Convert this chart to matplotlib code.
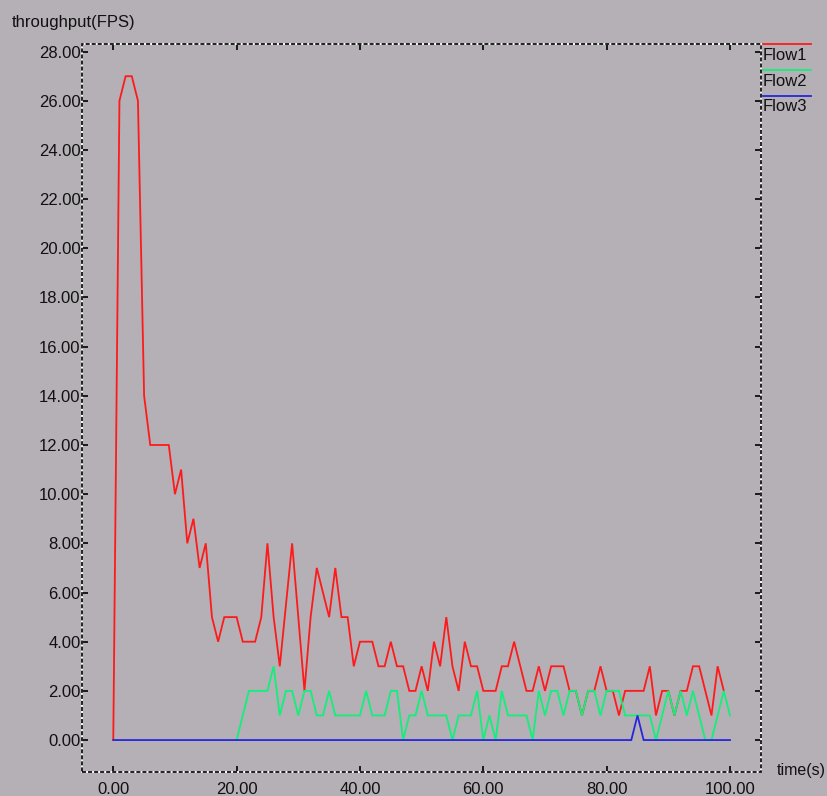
import matplotlib
matplotlib.use("Agg")
import matplotlib.pyplot as plt
from matplotlib.patches import Rectangle
import numpy as np

# ---------------- data ----------------
red_t = list(range(0, 100))
red_v = [0, 26, 27, 27, 26, 14, 12, 12, 12, 12,
         10, 11, 8, 9, 7, 8, 5, 4, 5, 5,
         5, 4, 4, 4, 5, 8, 5, 3, 5.5, 8,
         5, 2, 5, 7, 6, 5, 7, 5, 5, 3,
         4, 4, 4, 3, 3, 4, 3, 3, 2, 2,
         3, 2, 4, 3, 5, 3, 2, 4, 3, 3,
         2, 2, 2, 3, 3, 4, 3, 2, 2, 3,
         2, 3, 3, 3, 2, 2, 1, 2, 2, 3,
         2, 2, 1, 2, 2, 2, 2, 3, 1, 2,
         2, 1, 2, 2, 3, 3, 2, 1, 3, 2]

green_t = list(range(20, 101))
green_v = [0, 1, 2, 2, 2, 2, 3, 1, 2, 2,
           1, 2, 2, 1, 1, 2, 1, 1, 1, 1,
           1, 2, 1, 1, 1, 2, 2, 0, 1, 1,
           2, 1, 1, 1, 1, 0, 1, 1, 1, 2,
           0, 1, 0, 2, 1, 1, 1, 1, 0, 2,
           1, 2, 2, 1, 2, 2, 1, 2, 2, 1,
           2, 2, 2, 1, 1, 1, 1, 1, 0, 1,
           2, 1, 2, 1, 2, 1, 0, 0, 1, 2,
           1]

blue_t = list(range(0, 101))
blue_v = [0] * 85 + [1] + [0] * 15

series_names = ["Flow1", "Flow2", "Flow3"]
series_colors = ["#ff1a1a", "#10f07a", "#2626dc"]

x_ticks = [0, 20, 40, 60, 80, 100]
y_ticks = list(range(0, 29, 2))

x_label = "time(s)"
y_label = "throughput(FPS)"

# ---------------- layout ----------------
W, H = 827, 796
bg = "#b5afb6"
plt.rcParams['font.family'] = ['Liberation Sans', 'DejaVu Sans']
plt.rcParams['lines.scale_dashes'] = False

fig = plt.figure(figsize=(W / 100, H / 100), dpi=100, facecolor=bg)

def fx(px):
    return px / W

def fy(py):
    return 1 - py / H

left, right, top, bottom = 81.7, 761.0, 43.5, 772.0
ax = fig.add_axes([fx(left), fy(bottom), fx(right) - fx(left), fy(top) - fy(bottom)])
ax.set_facecolor(bg)

for (t, v), c in zip([(red_t, red_v), (green_t, green_v), (blue_t, blue_v)], series_colors):
    ax.plot(t, v, color=c, lw=1.3, solid_joinstyle='miter')

ax.set_xlim(-5.12, 105.03)
ax.set_ylim(-1.30, 28.33)

ax.set_xticks(x_ticks)
ax.set_xticklabels([f"{v:.2f}" for v in x_ticks])
ax.set_yticks(y_ticks)
ax.set_yticklabels([f"{v:.2f}" for v in y_ticks])
ax.tick_params(axis='both', direction='in', length=4, width=1.2, color='black',
               labelsize=12, labelcolor='#111111', top=True, right=True)
ax.tick_params(axis='y', pad=0.8)
ax.tick_params(axis='x', pad=7.5)

for s in ax.spines.values():
    s.set_visible(False)
# xgraph-like dashed border (black dashes over white)
ax.add_patch(Rectangle((0, 0), 1, 1, transform=ax.transAxes, fill=False,
                       edgecolor='white', lw=1.3, clip_on=False, zorder=5))
ax.add_patch(Rectangle((0, 0), 1, 1, transform=ax.transAxes, fill=False,
                       edgecolor='#111111', lw=1.3, linestyle=(0, (2.9, 1.45)),
                       clip_on=False, zorder=6))

fig.text(fx(12), fy(27), y_label, fontsize=12, color='#111111', ha='left', va='baseline')
fig.text(fx(777), fy(775), x_label, fontsize=11.5, color='#111111', ha='left', va='baseline')

# legend (xgraph style)
line_y = [44, 70, 96]
text_y = [59.5, 85.5, 111]
for name, c, ly, ty in zip(series_names, series_colors, line_y, text_y):
    fig.add_artist(plt.Line2D([fx(763), fx(811)], [fy(ly), fy(ly)], color=c, lw=1.3,
                              transform=fig.transFigure))
    fig.text(fx(763), fy(ty), name, fontsize=12, color='#111111', ha='left', va='baseline')

fig.savefig("out.png", dpi=100, facecolor=bg)
